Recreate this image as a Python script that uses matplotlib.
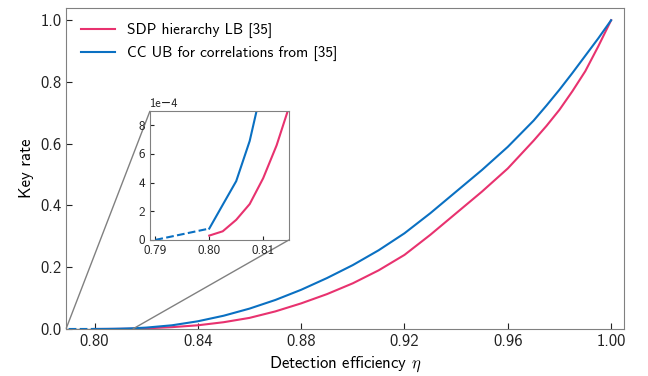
import numpy as np
import matplotlib
matplotlib.use("Agg")
from matplotlib import pyplot as plt
from mpl_toolkits.axes_grid1.inset_locator import mark_inset

plt.rcParams['font.family'] = ['cmss10', 'DejaVu Sans']
plt.rcParams['mathtext.fontset'] = 'cm'
plt.rcParams['axes.formatter.use_mathtext'] = False

# Datos leídos de la figura
# tramo discontinuo (cota CC por debajo de 0.80)
eta_dash = [0.79, 0.80]
cc_dash = [0.0, 0.79e-4]

eta = [0.80, 0.8025, 0.805, 0.8075, 0.81, 0.8125, 0.815, 0.82, 0.83, 0.84,
       0.85, 0.86, 0.87, 0.88, 0.89, 0.90, 0.91, 0.92, 0.93, 0.94,
       0.95, 0.96, 0.97, 0.975, 0.98, 0.985, 0.99, 0.995, 1.00]
cc_ub = [0.79e-4, 2.45e-4, 4.1e-4, 6.9e-4, 11e-4, 17e-4, 24e-4, 0.0045, 0.012, 0.025,
         0.043, 0.066, 0.094, 0.127, 0.165, 0.207, 0.255, 0.31, 0.375, 0.445,
         0.515, 0.59, 0.675, 0.724, 0.775, 0.829, 0.885, 0.941, 1.0]
sdp_lb = [0.3e-4, 0.6e-4, 1.4e-4, 2.5e-4, 4.3e-4, 6.6e-4, 9.5e-4, 0.0022, 0.006, 0.012,
          0.022, 0.036, 0.057, 0.083, 0.113, 0.148, 0.19, 0.24, 0.305, 0.375,
          0.445, 0.52, 0.61, 0.658, 0.71, 0.77, 0.835, 0.915, 1.0]

rosa = '#e8326f'
azul = '#0a70c2'
gris = '#808080'

fig = plt.figure(figsize=(6.48, 3.76), dpi=100)
ax = fig.add_axes([0.102, 0.125, 0.861, 0.854])

ax.plot(eta, sdp_lb, color=rosa, lw=1.5, label="SDP hierarchy LB [35]")
ax.plot(eta, cc_ub, color=azul, lw=1.5, label="CC UB for correlations from [35]")
ax.plot(eta_dash, cc_dash, color=azul, lw=1.5, ls='--')

ax.set_xlim(0.789, 1.005)
ax.set_ylim(0, 1.04)
ax.set_xticks([0.80, 0.84, 0.88, 0.92, 0.96, 1.00])
ax.set_yticks([0.0, 0.2, 0.4, 0.6, 0.8, 1.0])
ax.set_xticklabels(["0.80", "0.84", "0.88", "0.92", "0.96", "1.00"])
ax.set_yticklabels(["0.0", "0.2", "0.4", "0.6", "0.8", "1.0"])
ax.tick_params(direction='in', labelsize=12, colors='#222222', length=4)
for s in ax.spines.values():
    s.set_color(gris)
ax.set_xlabel(r"Detection efficiency $\eta$", fontsize=12)
ax.set_ylabel("Key rate", fontsize=12)
ax.legend(loc='upper left', frameon=False, fontsize=11, handlelength=2.2,
          borderaxespad=0.6)

# Zoom cerca del umbral
axins = fig.add_axes([0.2315, 0.362, 0.2145, 0.343])
axins.plot(eta, sdp_lb, color=rosa, lw=1.5)
axins.plot(eta, cc_ub, color=azul, lw=1.5)
axins.plot(eta_dash, cc_dash, color=azul, lw=1.5, ls='--')
axins.set_xlim(0.789, 0.8148)
axins.set_ylim(0, 9e-4)
axins.set_xticks([0.79, 0.80, 0.81])
axins.set_xticklabels(["0.79", "0.80", "0.81"])
axins.set_yticks([0, 2e-4, 4e-4, 6e-4, 8e-4])
axins.ticklabel_format(style='sci', axis='y', scilimits=(0, 0))
axins.tick_params(direction='in', labelsize=9.5, colors='#222222', length=3)
axins.yaxis.get_offset_text().set_fontsize(9)
for s in axins.spines.values():
    s.set_color(gris)

pp, l1, l2 = mark_inset(ax, axins, loc1=2, loc2=4, fc='none', ec=gris, lw=1)

fig.savefig("out.png", dpi=100)
